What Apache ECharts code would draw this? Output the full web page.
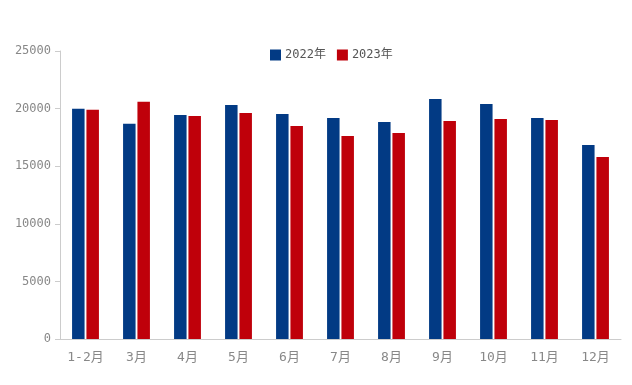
<!DOCTYPE html>
<html><head><meta charset="utf-8">
<script src="https://cdn.jsdelivr.net/npm/echarts@6/dist/echarts.min.js"></script>
<style>html,body{margin:0;padding:0;background:#fff}#c{width:632px;height:385px}</style>
</head><body><div id="c"></div>
<script>
const categories = ['1-2月','3月','4月','5月','6月','7月','8月','9月','10月','11月','12月'];
const seriesNames = ['2022年','2023年'];
const values2022 = [19980, 18680, 19450, 20320, 19530, 19190, 18840, 20840, 20400, 19190, 16850];
const values2023 = [19900, 20600, 19360, 19620, 18490, 17620, 17880, 18920, 19100, 19010, 15800];
const yTicks = [0, 5000, 10000, 15000, 20000, 25000];

const mono = '"DejaVu Sans Mono", "Noto Sans CJK SC", monospace';
const chart = echarts.init(document.getElementById('c'));
chart.setOption({
  animation: false,
  legend: {
    top: 44, left: 265, itemWidth: 11, itemHeight: 11, itemGap: 11,
    icon: 'rect',
    textStyle: { color: '#555', fontSize: 12, fontFamily: mono, padding: [0, 0, 0, -1] },
    data: seriesNames
  },
  grid: { left: 60, right: 11, top: 51, bottom: 46 },
  xAxis: {
    type: 'category', data: categories,
    axisLine: { lineStyle: { color: '#ccc' } },
    axisTick: { show: false },
    axisLabel: { color: '#888', fontSize: 13, margin: 12, fontFamily: mono }
  },
  yAxis: {
    type: 'value', min: yTicks[0], max: yTicks[yTicks.length-1], interval: 5000,
    axisLine: { show: true, lineStyle: { color: '#ccc' } },
    axisTick: { show: true, length: 5, lineStyle: { color: '#ccc' } },
    splitLine: { show: false },
    axisLabel: { color: '#888', fontSize: 12, margin: 9, fontFamily: mono, formatter: v => String(v) }
  },
  series: [
    { name: seriesNames[0], type: 'bar', data: values2022, barWidth: '24.5%', barGap: '15%', itemStyle: { color: '#023a84' } },
    { name: seriesNames[1], type: 'bar', data: values2023, barWidth: '24.5%', itemStyle: { color: '#bf000a' } }
  ]
});
</script></body></html>
